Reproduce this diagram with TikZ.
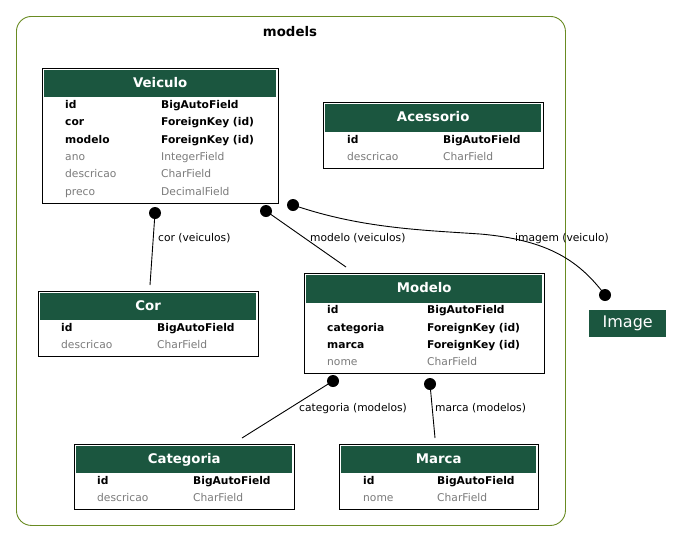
\documentclass[tikz,border=0pt]{standalone}
\usepackage{fontspec}
\setmainfont{DejaVu Sans}
\definecolor{hdr}{HTML}{1B563F}
\definecolor{clus}{HTML}{698B22}
\definecolor{fieldgray}{HTML}{7B7B7B}
\begin{document}
\begin{tikzpicture}[x=1pt,y=-1pt,
  tbl/.style={draw=black, line width=0.9pt, fill=white, anchor=north west, inner sep=0},
  hdrbox/.style={fill=hdr, draw=none, anchor=north west, inner sep=0, text=white, text depth=3pt, font=\fontsize{13.3}{15}\selectfont\bfseries},
  keyf/.style={anchor=base west, inner sep=0, font=\fontsize{10.7}{12}\selectfont\bfseries},
  regf/.style={anchor=base west, inner sep=0, text=fieldgray, font=\fontsize{10.7}{12}\selectfont},
  lbl/.style={anchor=base west, inner sep=0, font=\fontsize{10.7}{12}\selectfont},
  dotn/.style={circle, fill=black, inner sep=0, minimum size=12pt},
  rel/.style={line width=0.9pt}]
\useasboundingbox (0,0) rectangle (683,541);
% cluster
\node[draw=clus, line width=0.9pt, rounded corners=15pt, minimum width=549pt, minimum height=509pt, anchor=north west, inner sep=0] (models) at (16,16) {};
\node[font=\fontsize{13.3}{15}\selectfont\bfseries, inner sep=0] (modelslbl) at (290,32) {models};
% Veiculo
\node[tbl, minimum width=236pt, minimum height=135pt] (veiculo) at (42,68) {};
\node[hdrbox, minimum width=232pt, minimum height=27pt] (veiculoh) at (44,70) {Veiculo};
\node[keyf] (v1a) at (65,108) {id};        \node[keyf] (v1b) at (161,108) {BigAutoField};
\node[keyf] (v2a) at (65,125) {cor};       \node[keyf] (v2b) at (161,125) {ForeignKey (id)};
\node[keyf] (v3a) at (65,143) {modelo};    \node[keyf] (v3b) at (161,143) {ForeignKey (id)};
\node[regf] (v4a) at (65,160) {ano};       \node[regf] (v4b) at (161,160) {IntegerField};
\node[regf] (v5a) at (65,177) {descricao}; \node[regf] (v5b) at (161,177) {CharField};
\node[regf] (v6a) at (65,195) {preco};     \node[regf] (v6b) at (161,195) {DecimalField};
% Acessorio
\node[tbl, minimum width=220pt, minimum height=66pt] (acessorio) at (323,102) {};
\node[hdrbox, minimum width=216pt, minimum height=28pt] (acessorioh) at (325,104) {Acessorio};
\node[keyf] (a1a) at (347,143) {id};        \node[keyf] (a1b) at (443,143) {BigAutoField};
\node[regf] (a2a) at (347,160) {descricao}; \node[regf] (a2b) at (443,160) {CharField};
% Cor
\node[tbl, minimum width=220pt, minimum height=65pt] (cor) at (38,291) {};
\node[hdrbox, minimum width=216pt, minimum height=27pt] (corh) at (40,293) {Cor};
\node[keyf] (c1a) at (61,331) {id};        \node[keyf] (c1b) at (157,331) {BigAutoField};
\node[regf] (c2a) at (61,348) {descricao}; \node[regf] (c2b) at (157,348) {CharField};
% Modelo
\node[tbl, minimum width=240pt, minimum height=100pt] (modelo) at (304,273) {};
\node[hdrbox, minimum width=236pt, minimum height=28pt] (modeloh) at (306,275) {Modelo};
\node[keyf] (m1a) at (327,313) {id};        \node[keyf] (m1b) at (427,313) {BigAutoField};
\node[keyf] (m2a) at (327,331) {categoria}; \node[keyf] (m2b) at (427,331) {ForeignKey (id)};
\node[keyf] (m3a) at (327,348) {marca};     \node[keyf] (m3b) at (427,348) {ForeignKey (id)};
\node[regf] (m4a) at (327,365) {nome};      \node[regf] (m4b) at (427,365) {CharField};
% Categoria
\node[tbl, minimum width=220pt, minimum height=65pt] (categoria) at (74,444) {};
\node[hdrbox, minimum width=216pt, minimum height=27pt] (categoriah) at (76,446) {Categoria};
\node[keyf] (k1a) at (97,484) {id};        \node[keyf] (k1b) at (193,484) {BigAutoField};
\node[regf] (k2a) at (97,501) {descricao}; \node[regf] (k2b) at (193,501) {CharField};
% Marca
\node[tbl, minimum width=199pt, minimum height=65pt] (marca) at (339,444) {};
\node[hdrbox, minimum width=195pt, minimum height=27pt] (marcah) at (341,446) {Marca};
\node[keyf] (r1a) at (363,484) {id};   \node[keyf] (r1b) at (437,484) {BigAutoField};
\node[regf] (r2a) at (363,501) {nome}; \node[regf] (r2b) at (437,501) {CharField};
% Image
\node[fill=hdr, minimum width=77pt, minimum height=27pt, text=white, font=\fontsize{16}{18}\selectfont, anchor=north west, inner sep=0] (image) at (589,310) {Image};
% relations
\node[dotn] (d1) at (155,213) {};
\coordinate (e1) at (150,285);
\draw[rel] (d1.center) -- (e1);
\node[lbl] (l1) at (158,241) {cor (veiculos)};
\node[dotn] (d2) at (266,211) {};
\coordinate (e2) at (346,267);
\draw[rel] (d2.center) -- (e2);
\node[lbl] (l2) at (310,241) {modelo (veiculos)};
\node[dotn] (d3) at (293,205) {};
\node[dotn] (d4) at (605,295) {};
\draw[rel] (d3.center) .. controls (360,228) and (420,230) .. (480,234) .. controls (550,240) and (580,262) .. (d4.center);
\node[lbl] (l3) at (515,241) {imagem (veiculo)};
\node[dotn] (d5) at (333,381) {};
\coordinate (e5) at (242,438);
\draw[rel] (d5.center) -- (e5);
\node[lbl] (l5) at (299,411) {categoria (modelos)};
\node[dotn] (d6) at (430,384) {};
\coordinate (e6) at (435,438);
\draw[rel] (d6.center) -- (e6);
\node[lbl] (l6) at (435,411) {marca (modelos)};
\end{tikzpicture}
\end{document}
